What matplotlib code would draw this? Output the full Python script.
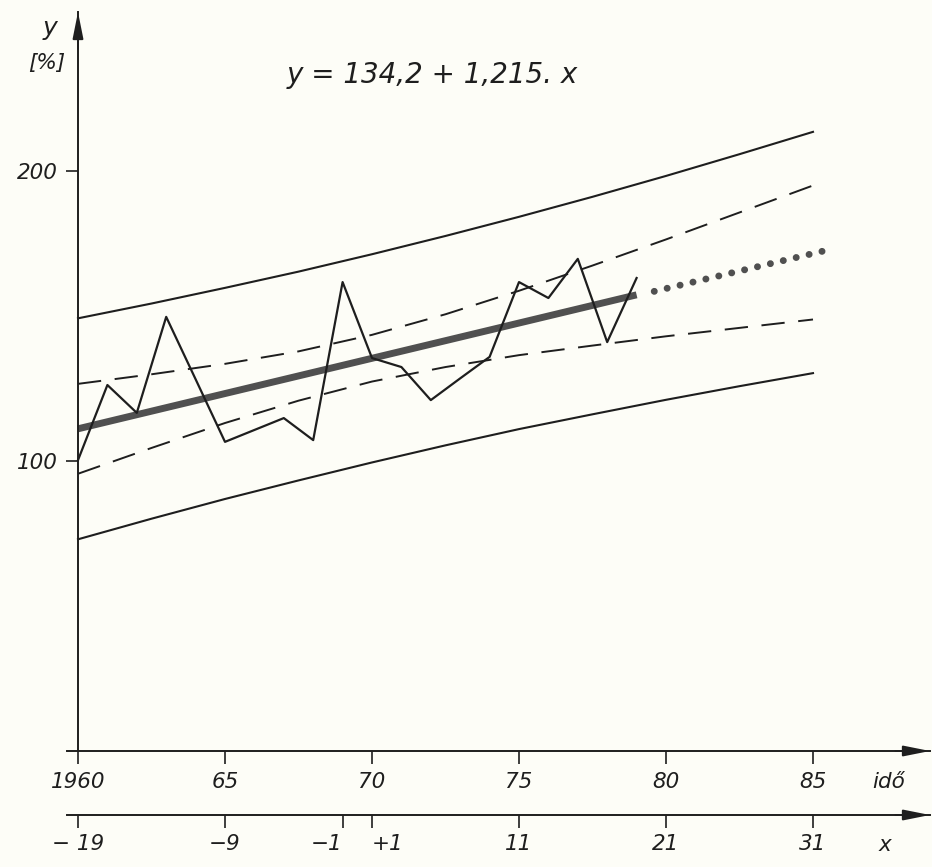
import matplotlib
matplotlib.use("Agg")
import matplotlib.pyplot as plt

years = [1960, 1961, 1962, 1963, 1964, 1965, 1966, 1967, 1968, 1969,
         1970, 1971, 1972, 1973, 1974, 1975, 1976, 1977, 1978, 1979]
values = [100.3, 126.2, 116.6, 149.7, 128.2, 106.6, 110.7, 114.8, 107.2, 161.7,
          135.5, 132.4, 121.0, 128.5, 135.9, 161.7, 156.2, 169.7, 141.0, 163.1]

# fitted trend y = 134,2 + 1,215 x and its extension
trend_years = [1960, 1979]
trend_vals = [111.1, 157.3]
fcst_years = [1979.6, 1985.6]
fcst_vals = [158.5, 173.0]

# band curves read at 2.5 year steps
band_years = [1960, 1962.5, 1965, 1967.5, 1970, 1972.5, 1975, 1977.5, 1980, 1982.5, 1985]
outer_hi = [149.2, 154.3, 159.7, 165.3, 171.3, 177.6, 184.2, 191.1, 198.3, 205.8, 213.5]
outer_lo = [73.0, 80.1, 86.9, 93.3, 99.5, 105.4, 111.0, 116.1, 121.1, 125.8, 130.3]
inner_hi = [126.6, 129.9, 133.5, 137.8, 143.5, 150.6, 158.7, 167.4, 176.4, 185.7, 195.0]
inner_lo = [95.6, 104.5, 113.1, 120.8, 127.4, 132.4, 136.5, 139.8, 143.0, 145.9, 148.8]

year_ticks = [1960, 1965, 1970, 1975, 1980, 1985]
year_labels = ['1960', '65', '70', '75', '80', '85']
x_ticks = [-19, -9, -1, 1, 11, 21, 31]
x_labels = ['− 19', '−9', '−1', '+1', '11', '21', '31']

ink = '#1e1e1e'
paper = '#fdfdf7'
plt.rcParams['font.family'] = ['DejaVu Sans']
plt.rcParams['font.style'] = 'italic'
fs = 15.5

fig = plt.figure(figsize=(9.32, 8.67), dpi=100, facecolor=paper)
ax = fig.add_axes([67 / 932, 116 / 867, 863 / 932, 739 / 867])
ax.set_facecolor(paper)
ax.set_xlim(1960 - 11 / 29.4, 1960 + 852 / 29.4)
ax.set_ylim(0, 739 / 2.9)

# bands
ax.plot(band_years, outer_hi, color=ink, lw=1.5)
ax.plot(band_years, outer_lo, color=ink, lw=1.5)
ax.plot(band_years, inner_hi, color=ink, lw=1.4, dashes=(12, 7))
ax.plot(band_years, inner_lo, color=ink, lw=1.4, dashes=(12, 7))

# trend and forecast
ax.plot(trend_years, trend_vals, color='#505050', lw=5, solid_capstyle='butt')
ax.plot(fcst_years, fcst_vals, color='#505050', lw=5,
        linestyle=(0, (0.01, 1.9)), dash_capstyle='round')

# observed data
ax.plot(years, values, color=ink, lw=1.6)

# axes
for side in ['top', 'right']:
    ax.spines[side].set_visible(False)
ax.spines['left'].set_position(('data', 1960))
ax.spines['left'].set_color(ink)
ax.spines['bottom'].set_color(ink)
ax.spines['left'].set_linewidth(1.4)
ax.spines['bottom'].set_linewidth(1.4)

ax.set_yticks([100, 200])
ax.set_yticklabels(['100', '200'])
ax.tick_params(axis='y', direction='out', length=8.5, width=1.2, pad=6,
               labelsize=fs, colors=ink)
ax.set_xticks(year_ticks)
ax.set_xticklabels(year_labels)
ax.tick_params(axis='x', direction='out', length=9, width=1.2, pad=6,
               labelsize=fs, colors=ink)

sec_pos = -64 / 739
secax = ax.secondary_xaxis(sec_pos, functions=(lambda t: 2 * (t - 1969.5),
                                               lambda v: v / 2 + 1969.5))
secax.set_xticks(x_ticks)
secax.set_xticklabels(x_labels)
secax.spines['bottom'].set_color(ink)
secax.spines['bottom'].set_linewidth(1.4)
secax.tick_params(axis='x', direction='out', length=9, width=1.2, pad=5,
                  labelsize=fs, colors=ink)
# keep "-1" and "+1" apart, as in the drawing
sec_lbls = secax.get_xticklabels()
sec_lbls[2].set_ha('right')
sec_lbls[3].set_ha('left')

arrow = dict(arrowstyle='-|>,head_length=0.8,head_width=0.16', color=ink,
             lw=1.4, mutation_scale=20, shrinkA=0, shrinkB=0)
ax.annotate('', xy=(1960, 1), xytext=(1960, 0.95),
            xycoords=('data', 'axes fraction'), arrowprops=arrow, annotation_clip=False)
ax.annotate('', xy=(1, 0), xytext=(0.96, 0),
            xycoords='axes fraction', arrowprops=arrow, annotation_clip=False)
ax.annotate('', xy=(1, sec_pos), xytext=(0.96, sec_pos),
            xycoords='axes fraction', arrowprops=arrow, annotation_clip=False)

ax.text(0.952, -31 / 739, 'idő', transform=ax.transAxes, fontsize=fs,
        ha='center', va='center', color=ink)
ax.text(0.948, -94 / 739, 'x', transform=ax.transAxes, fontsize=fs,
        ha='center', va='center', color=ink)

fig.text(50 / 932, 1 - 28 / 867, 'y', fontsize=18, ha='center', va='center', color=ink)
fig.text(47 / 932, 1 - 63 / 867, '[%]', fontsize=15.5, ha='center', va='center', color=ink)
fig.text(432 / 932, 1 - 75 / 867, 'y = 134,2 + 1,215. x', fontsize=20,
         ha='center', va='center', color=ink)

fig.savefig('out.png', dpi=100, facecolor=paper)
